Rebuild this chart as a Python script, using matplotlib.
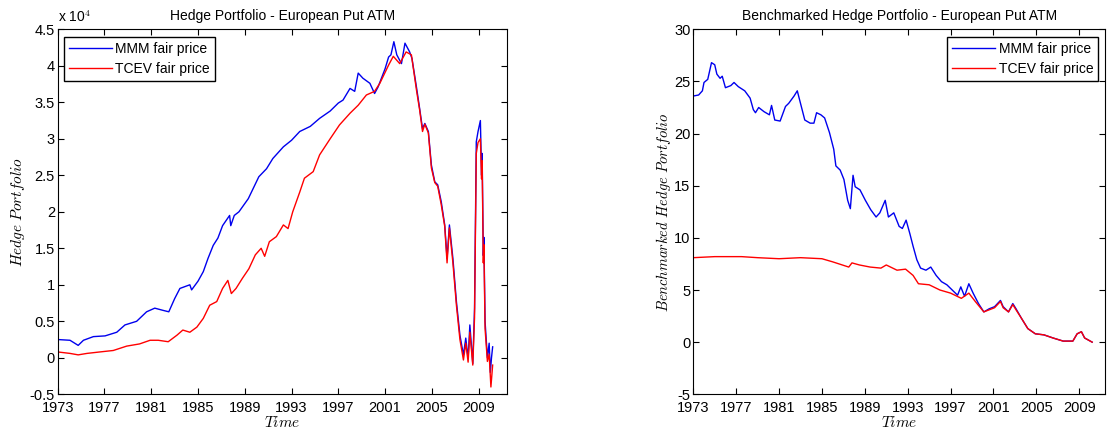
import numpy as np
import matplotlib
matplotlib.use("Agg")
import matplotlib.pyplot as plt
from matplotlib.ticker import MultipleLocator, FuncFormatter

plt.rcParams['font.family'] = ['Liberation Sans', 'DejaVu Sans']
plt.rcParams['mathtext.fontset'] = 'cm'

# ---- dados ----
# painel esquerdo (valores em unidades de 10^4)
anos_mmm_hp = [1973.0, 1974.05, 1974.75, 1975.2, 1976.05, 1977.05, 1978.05, 1978.75, 1979.75,
               1980.6, 1981.3, 1982.0, 1982.5, 1983.0, 1983.45, 1984.3, 1984.45, 1985.0,
               1985.45, 1985.85, 1986.3, 1986.7, 1987.1, 1987.7, 1987.8, 1988.1, 1988.5,
               1989.3, 1990.2, 1990.86, 1991.4, 1992.3, 1993.0, 1993.7, 1994.6, 1995.4,
               1996.3, 1997.0, 1997.4, 1998.0, 1998.4, 1998.7, 1999.1, 1999.7, 2000.1,
               2000.4, 2001.0, 2001.3, 2001.5, 2001.75, 2002.0, 2002.4, 2002.7, 2003.1,
               2003.3, 2003.7, 2003.95, 2004.2, 2004.4, 2004.7, 2004.96, 2005.25, 2005.5,
               2005.8, 2006.1, 2006.3, 2006.5, 2006.8, 2007.1, 2007.4, 2007.7, 2007.9,
               2008.1, 2008.25, 2008.5, 2008.65, 2008.8, 2008.95, 2009.15, 2009.25, 2009.3,
               2009.4, 2009.45, 2009.55, 2009.75, 2009.9, 2010.0, 2010.1, 2010.2]
mmm_hp = [0.25, 0.24, 0.17, 0.24, 0.29, 0.30, 0.35, 0.45, 0.50,
          0.63, 0.68, 0.65, 0.63, 0.81, 0.95, 1.00, 0.93, 1.05,
          1.18, 1.36, 1.54, 1.64, 1.81, 1.95, 1.81, 1.95, 2.00,
          2.18, 2.48, 2.59, 2.73, 2.89, 2.98, 3.10, 3.17, 3.28,
          3.38, 3.49, 3.53, 3.69, 3.65, 3.90, 3.83, 3.76, 3.62,
          3.71, 3.96, 4.12, 4.15, 4.33, 4.15, 4.03, 4.31, 4.19,
          4.10, 3.69, 3.42, 3.14, 3.21, 3.10, 2.64, 2.41, 2.37,
          2.14, 1.82, 1.36, 1.82, 1.36, 0.77, 0.31, 0.04, 0.27,
          -0.01, 0.45, -0.08, 0.68, 2.96, 3.10, 3.25, 2.50, 2.80,
          1.40, 1.65, 0.50, 0.00, 0.20, -0.20, 0.00, 0.15]

anos_tcev_hp = [1973.0, 1974.05, 1974.75, 1975.5, 1976.6, 1977.75, 1978.9, 1980.0, 1980.9,
                1981.6, 1982.45, 1983.2, 1983.7, 1984.3, 1984.9, 1985.45, 1986.0, 1986.6,
                1987.1, 1987.55, 1987.85, 1988.25, 1988.8, 1989.35, 1989.9, 1990.4, 1990.7,
                1991.1, 1991.7, 1992.3, 1992.7, 1993.1, 1993.7, 1994.1, 1994.85, 1995.4,
                1996.3, 1997.1, 1998.0, 1998.7, 1999.4, 2000.1, 2000.55, 2001.3, 2001.7,
                2002.25, 2002.8, 2003.25, 2003.7, 2003.95, 2004.2, 2004.4, 2004.7, 2004.96,
                2005.25, 2005.5, 2005.8, 2006.1, 2006.3, 2006.5, 2006.8, 2007.1, 2007.4,
                2007.7, 2007.9, 2008.1, 2008.25, 2008.5, 2008.65, 2008.8, 2008.95, 2009.15,
                2009.25, 2009.3, 2009.4, 2009.45, 2009.55, 2009.75, 2009.9, 2010.05, 2010.2]
tcev_hp = [0.08, 0.06, 0.04, 0.06, 0.08, 0.10, 0.16, 0.19, 0.24,
           0.24, 0.22, 0.31, 0.38, 0.35, 0.42, 0.54, 0.72, 0.77,
           0.95, 1.06, 0.88, 0.95, 1.09, 1.22, 1.41, 1.50, 1.39,
           1.59, 1.66, 1.82, 1.77, 2.00, 2.27, 2.46, 2.55, 2.78,
           3.00, 3.19, 3.35, 3.46, 3.60, 3.65, 3.76, 4.01, 4.13,
           4.03, 4.19, 4.15, 3.65, 3.40, 3.10, 3.20, 3.08, 2.60,
           2.40, 2.35, 2.10, 1.80, 1.30, 1.78, 1.30, 0.72, 0.25,
           -0.03, 0.20, -0.06, 0.35, -0.10, 0.55, 2.80, 2.95, 3.00,
           2.45, 2.70, 1.30, 1.55, 0.40, -0.05, 0.05, -0.40, -0.10]

# painel direito (benchmarked)
anos_mmm_bhp = [1973.0, 1973.5, 1973.85, 1974.0, 1974.35, 1974.7, 1975.0, 1975.2, 1975.5,
                1975.7, 1976.0, 1976.5, 1976.8, 1977.2, 1977.8, 1978.3, 1978.6, 1978.8,
                1979.1, 1979.6, 1980.1, 1980.3, 1980.6, 1981.1, 1981.6, 1981.9, 1982.4,
                1982.7, 1983.1, 1983.4, 1983.9, 1984.25, 1984.5, 1984.9, 1985.25, 1985.7,
                1986.1, 1986.3, 1986.7, 1987.05, 1987.4, 1987.65, 1987.9, 1988.1, 1988.55,
                1989.05, 1989.55, 1990.05, 1990.4, 1990.9, 1991.2, 1991.7, 1992.2, 1992.5,
                1992.85, 1993.2, 1993.5, 1993.85, 1994.2, 1994.7, 1995.15, 1995.65, 1996.15,
                1996.65, 1997.15, 1997.65, 1997.95, 1998.3, 1998.7, 1999.1, 1999.6, 2000.1,
                2000.6, 2001.1, 2001.65, 2001.9, 2002.4, 2002.8, 2003.1, 2003.6, 2004.2,
                2004.9, 2005.7, 2006.55, 2007.5, 2008.4, 2008.8, 2009.2, 2009.5, 2010.2]
mmm_bhp = [23.6, 23.7, 24.1, 24.9, 25.2, 26.8, 26.6, 25.7, 25.3,
           25.5, 24.4, 24.6, 24.9, 24.5, 24.1, 23.4, 22.3, 22.0,
           22.5, 22.1, 21.8, 22.7, 21.3, 21.2, 22.6, 22.9, 23.6,
           24.1, 22.5, 21.3, 21.0, 21.0, 22.0, 21.8, 21.5, 20.1,
           18.5, 16.9, 16.5, 15.6, 13.6, 12.8, 16.0, 14.9, 14.6,
           13.6, 12.7, 12.0, 12.4, 13.6, 12.0, 12.4, 11.1, 10.9,
           11.7, 10.4, 9.2, 7.9, 7.1, 6.9, 7.2, 6.4, 5.8,
           5.5, 5.0, 4.5, 5.3, 4.4, 5.6, 4.7, 3.7, 2.9,
           3.2, 3.4, 4.0, 3.4, 2.9, 3.7, 3.2, 2.3, 1.3,
           0.8, 0.7, 0.4, 0.1, 0.1, 0.8, 1.0, 0.4, 0.0]

anos_tcev_bhp = [1973.0, 1975.0, 1977.5, 1979.0, 1981.0, 1983.0, 1985.0, 1986.0, 1987.5,
                 1987.8, 1988.5, 1989.5, 1990.5, 1991.0, 1992.0, 1992.8, 1993.5, 1994.0,
                 1995.0, 1996.0, 1997.0, 1998.0, 1998.7, 1999.3, 2000.1, 2000.6, 2001.1,
                 2001.65, 2001.9, 2002.4, 2002.8, 2003.1, 2003.6, 2004.2, 2004.9, 2005.7,
                 2006.55, 2007.5, 2008.4, 2008.8, 2009.2, 2009.5, 2010.2]
tcev_bhp = [8.1, 8.2, 8.2, 8.1, 8.0, 8.1, 8.0, 7.7, 7.2,
            7.6, 7.4, 7.2, 7.1, 7.4, 6.9, 7.0, 6.4, 5.6,
            5.5, 5.0, 4.7, 4.2, 4.7, 3.9, 2.9, 3.1, 3.3,
            3.9, 3.3, 2.9, 3.6, 3.1, 2.3, 1.3, 0.8, 0.7,
            0.4, 0.1, 0.1, 0.8, 1.0, 0.4, 0.0]

anos_ticks = [1973, 1977, 1981, 1985, 1989, 1993, 1997, 2001, 2005, 2009]

fig = plt.figure(figsize=(11.08, 4.34), dpi=100)
ax1 = fig.add_axes([0.0521, 0.0915, 0.4052, 0.841])
ax2 = fig.add_axes([0.6257, 0.0915, 0.3716, 0.841])


def fmt_g(v, pos):
    return f"{v:g}"


for ax in (ax1, ax2):
    ax.set_xlim(1973, 2011.4)
    ax.set_xticks(anos_ticks)
    ax.tick_params(direction='in', top=True, right=True, length=4, width=0.8,
                   labelsize=10.5, pad=2)
    ax.tick_params(axis='x', pad=5)
    ax.yaxis.set_major_formatter(FuncFormatter(fmt_g))
    for s in ax.spines.values():
        s.set_linewidth(0.8)
    ax.set_xlabel(r'$Time$', fontsize=11, labelpad=0)

# esquerdo
ax1.plot(anos_mmm_hp, mmm_hp, color='#0000ee', lw=1, label='MMM fair price')
ax1.plot(anos_tcev_hp, tcev_hp, color='#ff0000', lw=1, label='TCEV fair price')
ax1.set_ylim(-0.5, 4.5)
ax1.yaxis.set_major_locator(MultipleLocator(0.5))
ax1.set_title('Hedge Portfolio - European Put ATM', fontsize=10, pad=7)
ax1.set_ylabel(r'$Hedge\ Portfolio$', fontsize=11, labelpad=2)
ax1.text(0.0, 1.012, r'x 10$^4$', transform=ax1.transAxes, fontsize=10, ha='left', va='bottom')
ax1.legend(loc='upper left', bbox_to_anchor=(0.014, 0.979), borderaxespad=0, fontsize=10,
           fancybox=False, edgecolor='black', framealpha=1, handlelength=3.1,
           handletextpad=0.25, labelspacing=0.45, borderpad=0.35)

# direito
ax2.plot(anos_mmm_bhp, mmm_bhp, color='#0000ee', lw=1, label='MMM fair price')
ax2.plot(anos_tcev_bhp, tcev_bhp, color='#ff0000', lw=1, label='TCEV fair price')
ax2.set_ylim(-5, 30)
ax2.yaxis.set_major_locator(MultipleLocator(5))
ax2.set_title('Benchmarked Hedge Portfolio - European Put ATM', fontsize=10, pad=7)
ax2.set_ylabel(r'$Benchmarked\ Hedge\ Portfolio$', fontsize=10.5, labelpad=1)
ax2.legend(loc='upper right', bbox_to_anchor=(0.983, 0.979), borderaxespad=0, fontsize=10,
           fancybox=False, edgecolor='black', framealpha=1, handlelength=3.1,
           handletextpad=0.25, labelspacing=0.45, borderpad=0.35)

plt.savefig("out.png", dpi=100)
plt.close()
